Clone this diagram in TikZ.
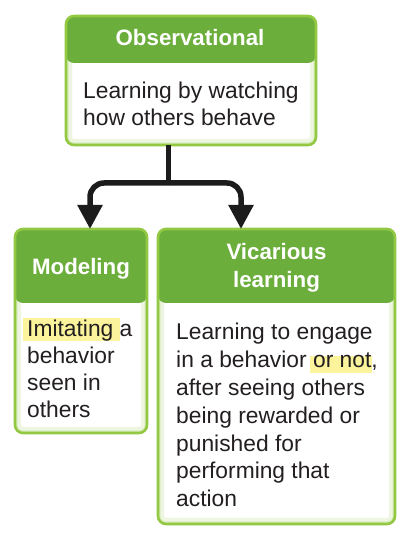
\documentclass[tikz,border=0pt]{standalone}
\usepackage{fontspec}
\setmainfont{Liberation Sans}
\usetikzlibrary{arrows.meta}

\definecolor{hdrgreen}{HTML}{6CAE3C}
\definecolor{edgegreen}{HTML}{92C842}
\definecolor{glowA}{HTML}{EEF6E1}
\definecolor{glowB}{HTML}{D9EDBB}
\definecolor{inkgray}{HTML}{231F20}
\definecolor{arrowink}{HTML}{1C1C1C}
\definecolor{hlyellow}{HTML}{FBF49C}

% highlighter stroke behind a word: left pad, right pad, depth, height, text
\newcommand\hlword[5]{\setbox0=\hbox{#5}\rlap{\hskip-#1\textcolor{hlyellow}{\rule[-#3]{\dimexpr\wd0+#1+#2\relax}{#4}}}\box0}

\tikzset{
  card/.style={draw=edgegreen, line width=2.6pt, fill=white, rounded corners=8pt,
    inner sep=0pt, outer sep=0pt, anchor=north west,
    path picture={
      \draw[glowA, line width=12pt, rounded corners=8pt]
        (path picture bounding box.south west) rectangle (path picture bounding box.north east);
      \draw[glowB, line width=5pt, rounded corners=8pt]
        (path picture bounding box.south west) rectangle (path picture bounding box.north east);
      \fill[hdrgreen] (path picture bounding box.north west) rectangle
        ([yshift=-#1]path picture bounding box.north east);
    }},
  headtext/.style={text=white, font=\fontsize{22.3}{28.5}\selectfont\bfseries,
    align=center, inner sep=0pt, anchor=base},
  % multi-line nodes: the base anchor sits on the last line
  bodytext/.style={text=inkgray, font=\fontsize{22.8}{27.1}\selectfont,
    align=left, inner sep=0pt, anchor=base west},
  stemline/.style={draw=arrowink, line width=5pt},
  branch/.style={draw=arrowink, line width=5.5pt, rounded corners=14pt,
    -{Triangle[width=24pt,length=24pt]}},
}

\begin{document}
\begin{tikzpicture}[x=1pt,y=1pt]
  \useasboundingbox[fill=white] (0,0) rectangle (410,534);

  % the three cards
  \node[card=47pt, minimum width=250pt, minimum height=129pt] (obs) at (66,518) {};
  \node[card=74pt, minimum width=132pt, minimum height=204pt] (model) at (15,305) {};
  \node[card=74pt, minimum width=237pt, minimum height=295pt] (vic) at (158,305) {};

  % card titles
  \node[headtext] (obsH) at (190,488) {Observational};
  \node[headtext] (modelH) at (81,259) {Modeling};
  \node[headtext] (vicH) at (276.5,246) {Vicarious\\learning};

  % card descriptions
  \node[bodytext] (obsT) at (83,408.7) {Learning by watching\\how others behave};
  \node[bodytext] (modelT) at (27,116) {\hlword{4pt}{0pt}{4pt}{23pt}{Imitating }a\\behavior\\seen in\\others};
  \node[bodytext, font=\fontsize{22.8}{27.8}\selectfont] (vicT) at (176,27.3) {Learning to engage\\in a behavior \hlword{3pt}{1pt}{5pt}{17pt}{or not},\\after seeing others\\being rewarded or\\punished for\\performing that\\action};

  % branching connector
  \coordinate (split) at ([xshift=102pt,yshift=-38pt]obs.south west);
  \draw[stemline] ([xshift=102pt]obs.south west) -- (split);
  \draw[branch] (split) -| ([xshift=75pt]model.north west);
  \draw[branch] (split) -| ([xshift=83pt]vic.north west);
\end{tikzpicture}
\end{document}
